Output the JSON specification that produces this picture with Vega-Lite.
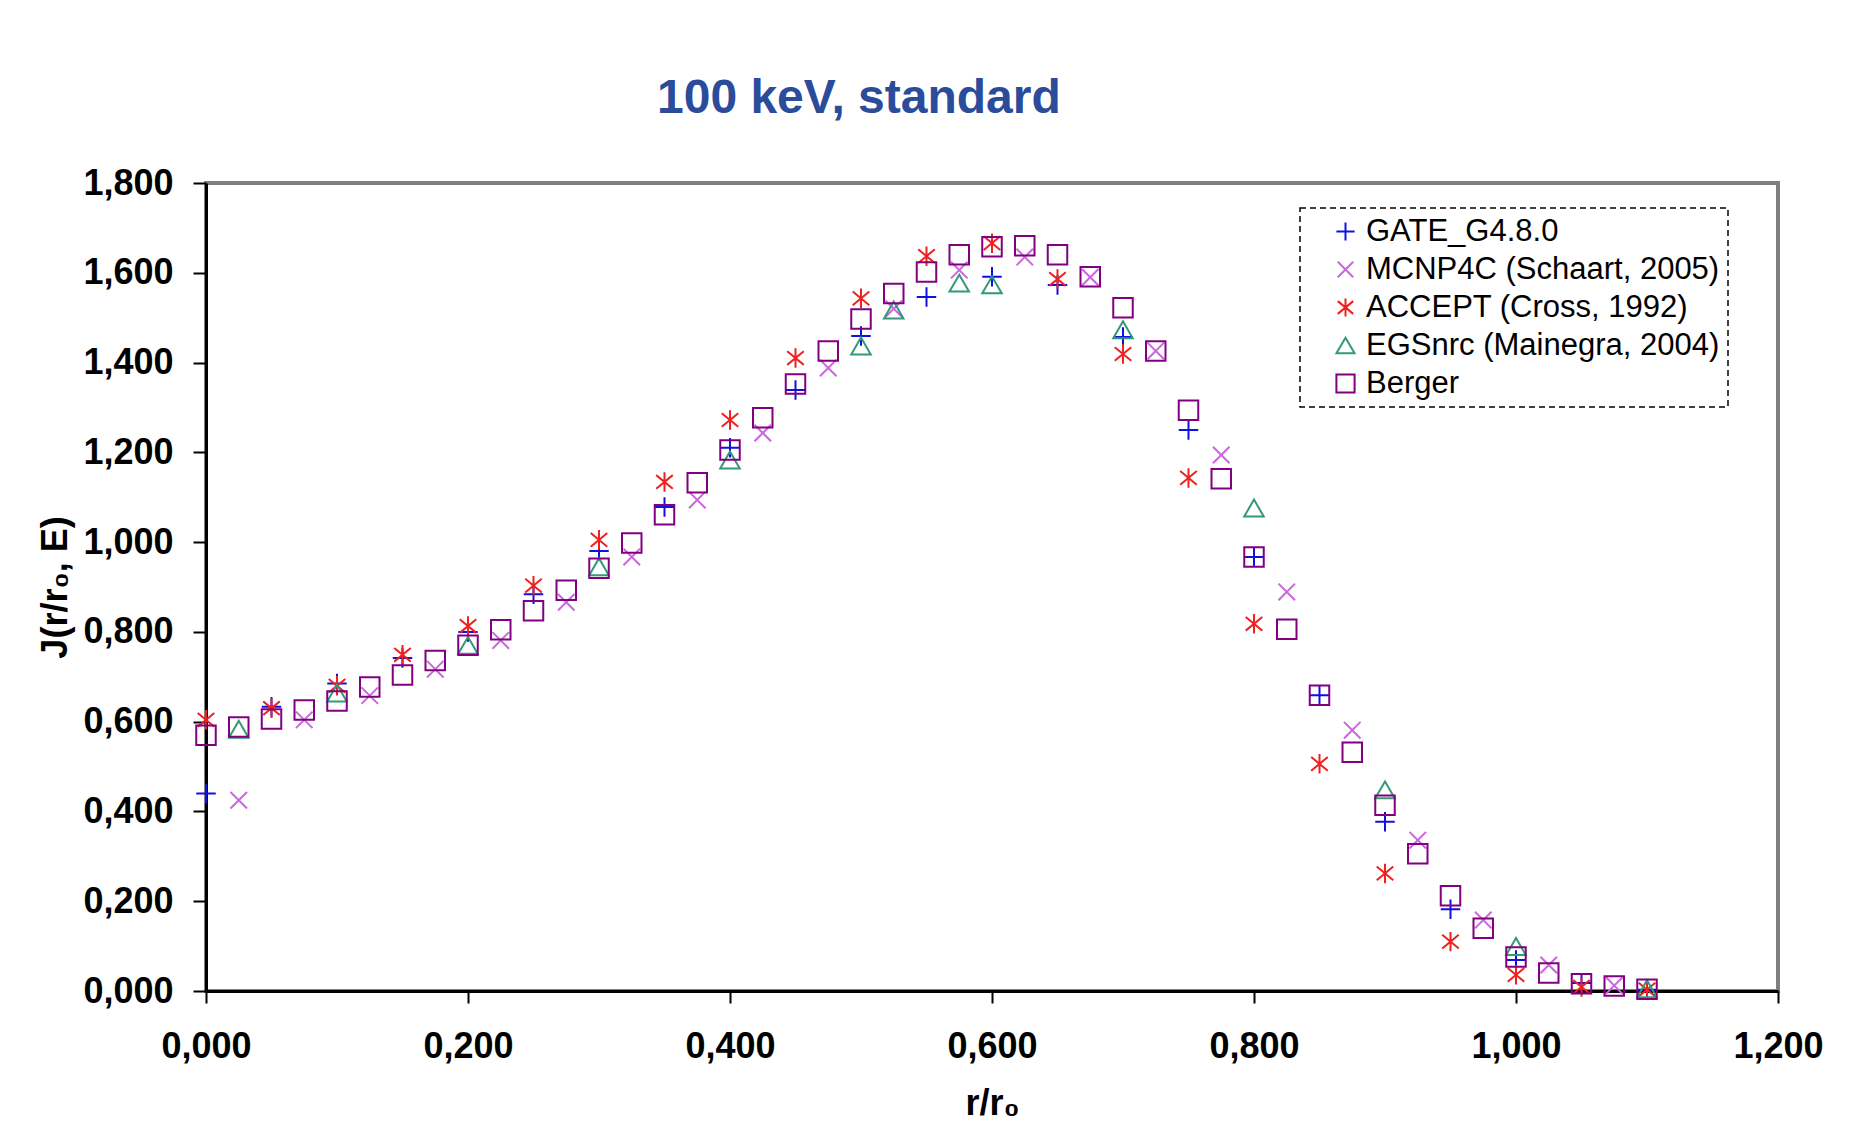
{
  "$schema": "https://vega.github.io/schema/vega-lite/v6.json",
  "width": 1572,
  "height": 808,
  "autosize": "none",
  "padding": {"left": 206, "top": 183, "right": 85, "bottom": 143},
  "background": "white",
  "title": {"text": "100 keV, standard", "anchor": "start", "frame": "group", "dx": 451, "offset": 4, "baseline": "alphabetic", "fontSize": 48, "font": "Liberation Sans", "fontWeight": "bold", "color": "#2B4C9B"},
  "config": {
    "view": {"stroke": "#808080", "strokeWidth": 4},
    "axis": {"grid": false, "domainColor": "black", "domainWidth": 3, "tickColor": "black", "tickWidth": 2, "labelFont": "Liberation Sans", "labelFontWeight": "bold", "labelFontSize": 36, "labelColor": "black", "titleFont": "Liberation Sans", "titleFontWeight": "bold", "titleFontSize": 36, "titleColor": "black", "labelFlush": false, "labelOverlap": false, "labelExpr": "replace(format(datum.value, '.3f'), '.', ',')"},
    "legend": {"strokeColor": "black", "strokeDash": [6, 4], "strokeWidth": 1.5, "fillColor": "white"}
  },
  "data": {"values": [
    {"series":"GATE_G4.8.0","r":0,"J":0.44},{"series":"GATE_G4.8.0","r":0.05,"J":0.633},{"series":"GATE_G4.8.0","r":0.1,"J":0.685},{"series":"GATE_G4.8.0","r":0.15,"J":0.742},{"series":"GATE_G4.8.0","r":0.2,"J":0.8},{"series":"GATE_G4.8.0","r":0.25,"J":0.884},{"series":"GATE_G4.8.0","r":0.3,"J":0.98},{"series":"GATE_G4.8.0","r":0.35,"J":1.078},{"series":"GATE_G4.8.0","r":0.4,"J":1.21},{"series":"GATE_G4.8.0","r":0.45,"J":1.339},{"series":"GATE_G4.8.0","r":0.5,"J":1.459},{"series":"GATE_G4.8.0","r":0.55,"J":1.546},{"series":"GATE_G4.8.0","r":0.6,"J":1.591},{"series":"GATE_G4.8.0","r":0.65,"J":1.573},{"series":"GATE_G4.8.0","r":0.7,"J":1.457},{"series":"GATE_G4.8.0","r":0.75,"J":1.25},{"series":"GATE_G4.8.0","r":0.8,"J":0.967},{"series":"GATE_G4.8.0","r":0.85,"J":0.659},{"series":"GATE_G4.8.0","r":0.9,"J":0.377},{"series":"GATE_G4.8.0","r":0.95,"J":0.182},{"series":"GATE_G4.8.0","r":1.0,"J":0.069},{"series":"GATE_G4.8.0","r":1.05,"J":0.018},{"series":"GATE_G4.8.0","r":1.1,"J":0.003},
    {"series":"MCNP4C (Schaart, 2005)","r":0.025,"J":0.425},{"series":"MCNP4C (Schaart, 2005)","r":0.075,"J":0.604},{"series":"MCNP4C (Schaart, 2005)","r":0.125,"J":0.658},{"series":"MCNP4C (Schaart, 2005)","r":0.175,"J":0.717},{"series":"MCNP4C (Schaart, 2005)","r":0.225,"J":0.781},{"series":"MCNP4C (Schaart, 2005)","r":0.275,"J":0.866},{"series":"MCNP4C (Schaart, 2005)","r":0.325,"J":0.967},{"series":"MCNP4C (Schaart, 2005)","r":0.375,"J":1.094},{"series":"MCNP4C (Schaart, 2005)","r":0.425,"J":1.243},{"series":"MCNP4C (Schaart, 2005)","r":0.475,"J":1.388},{"series":"MCNP4C (Schaart, 2005)","r":0.525,"J":1.52},{"series":"MCNP4C (Schaart, 2005)","r":0.575,"J":1.606},{"series":"MCNP4C (Schaart, 2005)","r":0.625,"J":1.635},{"series":"MCNP4C (Schaart, 2005)","r":0.675,"J":1.59},{"series":"MCNP4C (Schaart, 2005)","r":0.725,"J":1.426},{"series":"MCNP4C (Schaart, 2005)","r":0.775,"J":1.194},{"series":"MCNP4C (Schaart, 2005)","r":0.825,"J":0.889},{"series":"MCNP4C (Schaart, 2005)","r":0.875,"J":0.581},{"series":"MCNP4C (Schaart, 2005)","r":0.925,"J":0.336},{"series":"MCNP4C (Schaart, 2005)","r":0.975,"J":0.158},{"series":"MCNP4C (Schaart, 2005)","r":1.025,"J":0.058},{"series":"MCNP4C (Schaart, 2005)","r":1.075,"J":0.012},
    {"series":"ACCEPT (Cross, 1992)","r":0,"J":0.604},{"series":"ACCEPT (Cross, 1992)","r":0.05,"J":0.63},{"series":"ACCEPT (Cross, 1992)","r":0.1,"J":0.68},{"series":"ACCEPT (Cross, 1992)","r":0.15,"J":0.749},{"series":"ACCEPT (Cross, 1992)","r":0.2,"J":0.813},{"series":"ACCEPT (Cross, 1992)","r":0.25,"J":0.903},{"series":"ACCEPT (Cross, 1992)","r":0.3,"J":1.005},{"series":"ACCEPT (Cross, 1992)","r":0.35,"J":1.134},{"series":"ACCEPT (Cross, 1992)","r":0.4,"J":1.272},{"series":"ACCEPT (Cross, 1992)","r":0.45,"J":1.41},{"series":"ACCEPT (Cross, 1992)","r":0.5,"J":1.543},{"series":"ACCEPT (Cross, 1992)","r":0.55,"J":1.637},{"series":"ACCEPT (Cross, 1992)","r":0.6,"J":1.666},{"series":"ACCEPT (Cross, 1992)","r":0.65,"J":1.586},{"series":"ACCEPT (Cross, 1992)","r":0.7,"J":1.419},{"series":"ACCEPT (Cross, 1992)","r":0.75,"J":1.143},{"series":"ACCEPT (Cross, 1992)","r":0.8,"J":0.818},{"series":"ACCEPT (Cross, 1992)","r":0.85,"J":0.506},{"series":"ACCEPT (Cross, 1992)","r":0.9,"J":0.262},{"series":"ACCEPT (Cross, 1992)","r":0.95,"J":0.11},{"series":"ACCEPT (Cross, 1992)","r":1.0,"J":0.036},{"series":"ACCEPT (Cross, 1992)","r":1.05,"J":0.009},{"series":"ACCEPT (Cross, 1992)","r":1.1,"J":0.003},
    {"series":"EGSnrc (Mainegra, 2004)","r":0.025,"J":0.583},{"series":"EGSnrc (Mainegra, 2004)","r":0.1,"J":0.664},{"series":"EGSnrc (Mainegra, 2004)","r":0.2,"J":0.77},{"series":"EGSnrc (Mainegra, 2004)","r":0.3,"J":0.945},{"series":"EGSnrc (Mainegra, 2004)","r":0.4,"J":1.183},{"series":"EGSnrc (Mainegra, 2004)","r":0.5,"J":1.437},{"series":"EGSnrc (Mainegra, 2004)","r":0.525,"J":1.517},{"series":"EGSnrc (Mainegra, 2004)","r":0.575,"J":1.577},{"series":"EGSnrc (Mainegra, 2004)","r":0.6,"J":1.573},{"series":"EGSnrc (Mainegra, 2004)","r":0.7,"J":1.473},{"series":"EGSnrc (Mainegra, 2004)","r":0.8,"J":1.076},{"series":"EGSnrc (Mainegra, 2004)","r":0.9,"J":0.448},{"series":"EGSnrc (Mainegra, 2004)","r":1.0,"J":0.099},{"series":"EGSnrc (Mainegra, 2004)","r":1.1,"J":0.005},
    {"series":"Berger","r":0,"J":0.57},{"series":"Berger","r":0.025,"J":0.588},{"series":"Berger","r":0.05,"J":0.606},{"series":"Berger","r":0.075,"J":0.626},{"series":"Berger","r":0.1,"J":0.646},{"series":"Berger","r":0.125,"J":0.677},{"series":"Berger","r":0.15,"J":0.704},{"series":"Berger","r":0.175,"J":0.736},{"series":"Berger","r":0.2,"J":0.77},{"series":"Berger","r":0.225,"J":0.805},{"series":"Berger","r":0.25,"J":0.847},{"series":"Berger","r":0.275,"J":0.893},{"series":"Berger","r":0.3,"J":0.942},{"series":"Berger","r":0.325,"J":0.998},{"series":"Berger","r":0.35,"J":1.061},{"series":"Berger","r":0.375,"J":1.132},{"series":"Berger","r":0.4,"J":1.205},{"series":"Berger","r":0.425,"J":1.277},{"series":"Berger","r":0.45,"J":1.352},{"series":"Berger","r":0.475,"J":1.426},{"series":"Berger","r":0.5,"J":1.497},{"series":"Berger","r":0.525,"J":1.554},{"series":"Berger","r":0.55,"J":1.602},{"series":"Berger","r":0.575,"J":1.64},{"series":"Berger","r":0.6,"J":1.658},{"series":"Berger","r":0.625,"J":1.66},{"series":"Berger","r":0.65,"J":1.64},{"series":"Berger","r":0.675,"J":1.591},{"series":"Berger","r":0.7,"J":1.522},{"series":"Berger","r":0.725,"J":1.426},{"series":"Berger","r":0.75,"J":1.294},{"series":"Berger","r":0.775,"J":1.141},{"series":"Berger","r":0.8,"J":0.967},{"series":"Berger","r":0.825,"J":0.806},{"series":"Berger","r":0.85,"J":0.659},{"series":"Berger","r":0.875,"J":0.532},{"series":"Berger","r":0.9,"J":0.414},{"series":"Berger","r":0.925,"J":0.306},{"series":"Berger","r":0.95,"J":0.212},{"series":"Berger","r":0.975,"J":0.14},{"series":"Berger","r":1.0,"J":0.076},{"series":"Berger","r":1.025,"J":0.04},{"series":"Berger","r":1.05,"J":0.016},{"series":"Berger","r":1.075,"J":0.011},{"series":"Berger","r":1.1,"J":0.004}
  ]},
  "mark": {"type": "point", "filled": false, "strokeWidth": 2, "size": 380, "clip": false, "opacity": 1},
  "encoding": {
    "x": {"field": "r", "type": "quantitative", "scale": {"domain": [0, 1.2], "nice": false, "zero": false},
      "axis": {"values": [0, 0.2, 0.4, 0.6, 0.8, 1.0, 1.2], "tickSize": 12, "labelPadding": 26, "title": "r/r₀", "titlePadding": 22}},
    "y": {"field": "J", "type": "quantitative", "scale": {"domain": [0, 1.8], "nice": false, "zero": false},
      "axis": {"values": [0, 0.2, 0.4, 0.6, 0.8, 1.0, 1.2, 1.4, 1.6, 1.8], "tickSize": 13, "labelPadding": 20, "title": "J(r/r₀, E)", "titlePadding": 8}},
    "color": {"field": "series", "type": "nominal",
      "scale": {"domain": ["GATE_G4.8.0", "MCNP4C (Schaart, 2005)", "ACCEPT (Cross, 1992)", "EGSnrc (Mainegra, 2004)", "Berger"],
        "range": ["#1010e0", "#cc66dd", "#ee2020", "#339977", "#800080"]},
      "legend": {"orient": "none", "legendX": 1094, "legendY": 25, "title": null, "padding": 8, "symbolOffset": 22, "labelFont": "Liberation Sans", "labelFontSize": 31, "labelColor": "black", "labelLimit": 600, "rowPadding": 6, "symbolSize": 330, "symbolStrokeWidth": 2, "labelOffset": 5}},
    "shape": {"field": "series", "type": "nominal",
      "scale": {"domain": ["GATE_G4.8.0", "MCNP4C (Schaart, 2005)", "ACCEPT (Cross, 1992)", "EGSnrc (Mainegra, 2004)", "Berger"],
        "range": ["M-1,0L1,0M0,-1L0,1", "M-0.85,-0.85L0.85,0.85M-0.85,0.85L0.85,-0.85", "M0,-1L0,1M-0.85,-0.7L0.85,0.7M-0.85,0.7L0.85,-0.7", "triangle-up", "square"]}}
  }
}
